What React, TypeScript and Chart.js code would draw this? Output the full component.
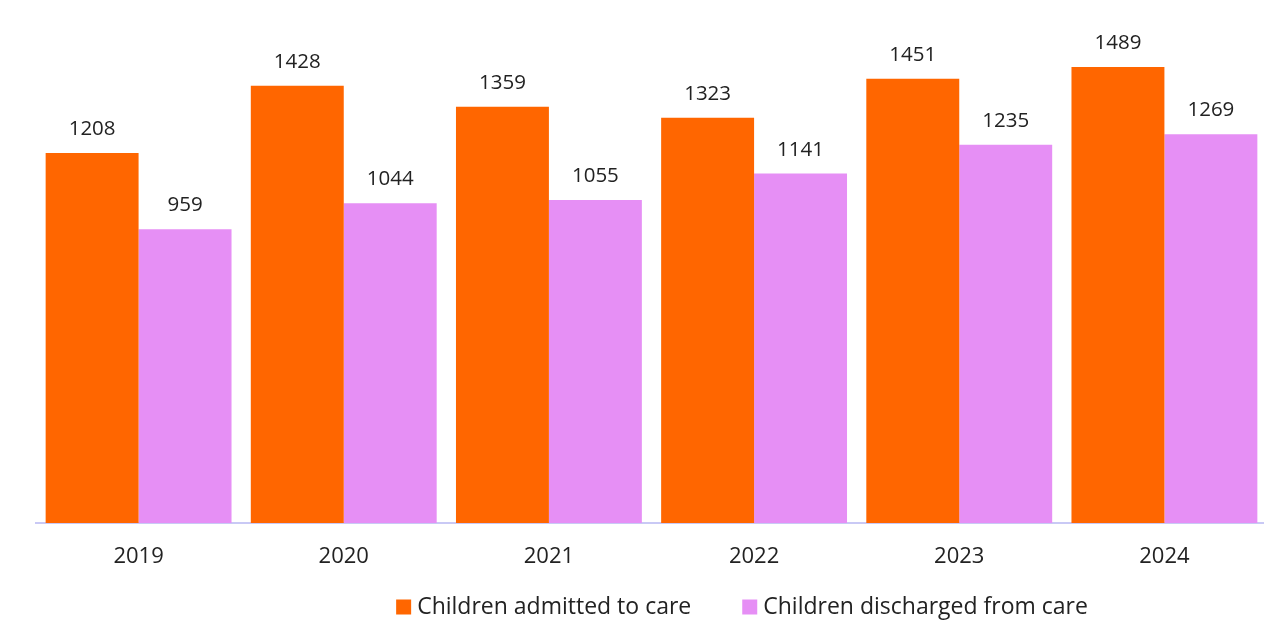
import React, { useEffect, useRef } from "react";
import { Chart, registerables } from "chart.js";

Chart.register(...registerables);

const years = ["2019", "2020", "2021", "2022", "2023", "2024"];
const admitted = [1208, 1428, 1359, 1323, 1451, 1489];
const discharged = [959, 1044, 1055, 1141, 1235, 1269];
const seriesNames = ["Children admitted to care", "Children discharged from care"];

const FONT = "'Open Sans', 'Noto Sans', sans-serif";
const ORANGE = "#ff6600";
const PURPLE = "#e68ff5";
const TEXT = "#222222";

const valueLabels = {
  id: "valueLabels",
  afterDatasetsDraw(chart: any) {
    const ctx = chart.ctx;
    ctx.save();
    ctx.font = `20.5px ${FONT}`;
    ctx.fillStyle = TEXT;
    ctx.textAlign = "center";
    ctx.textBaseline = "alphabetic";
    chart.data.datasets.forEach((ds: any, i: number) => {
      const meta = chart.getDatasetMeta(i);
      meta.data.forEach((bar: any, j: number) => {
        ctx.fillText(String(ds.data[j]), bar.x, bar.y - 18);
      });
    });
    ctx.restore();
  },
};

// Bottom legend drawn from the datasets
const customLegend = {
  id: "customLegend",
  afterDraw(chart: any) {
    const ctx = chart.ctx;
    const box = 15;
    const textGap = 6;
    const itemGap = 51;
    const centerX = 742;
    const centerY = 607;
    ctx.save();
    ctx.font = `23px ${FONT}`;
    const items = chart.data.datasets.map((ds: any) => ({
      label: ds.label,
      color: ds.backgroundColor,
      w: box + textGap + ctx.measureText(ds.label).width,
    }));
    const total = items.reduce((s: number, it: any) => s + it.w, 0) + itemGap * (items.length - 1);
    let x = centerX - total / 2;
    ctx.textBaseline = "middle";
    ctx.textAlign = "left";
    items.forEach((it: any) => {
      ctx.fillStyle = it.color;
      ctx.fillRect(x, centerY - box / 2, box, box);
      ctx.fillStyle = TEXT;
      ctx.fillText(it.label, x + box + textGap, centerY);
      x += it.w + itemGap;
    });
    ctx.restore();
  },
};

export default function App() {
  const ref = useRef<HTMLCanvasElement | null>(null);
  useEffect(() => {
    if (!ref.current) return;
    const chart = new Chart(ref.current, {
      type: "bar",
      data: {
        labels: years,
        datasets: [
          { label: seriesNames[0], data: admitted, backgroundColor: ORANGE, borderWidth: 0 },
          { label: seriesNames[1], data: discharged, backgroundColor: PURPLE, borderWidth: 0 },
        ],
      },
      options: {
        animation: false,
        responsive: false,
        maintainAspectRatio: false,
        layout: { padding: { left: 36, right: 1, top: 33, bottom: 51 } },
        datasets: { bar: { barPercentage: 1, categoryPercentage: 0.906 } },
        scales: {
          x: {
            grid: { display: true, drawOnChartArea: false, drawTicks: false },
            border: { display: true, color: "#c9c9f5", width: 2 },
            ticks: { font: { family: FONT, size: 22 }, color: TEXT, padding: 21 },
            afterFit: (scale: any) => {
              scale.height = 64;
            },
          },
          y: {
            display: false,
            min: 0,
            max: 1600,
          },
        },
        plugins: {
          legend: { display: false },
          tooltip: { enabled: false },
        },
      },
      plugins: [valueLabels, customLegend],
    });
    return () => chart.destroy();
  }, []);
  return (
    <div style={{ position: "fixed", left: 0, top: 0, width: 1268, height: 638, background: "#fff" }}>
      <canvas ref={ref} width={1268} height={638} style={{ display: "block" }} />
    </div>
  );
}
